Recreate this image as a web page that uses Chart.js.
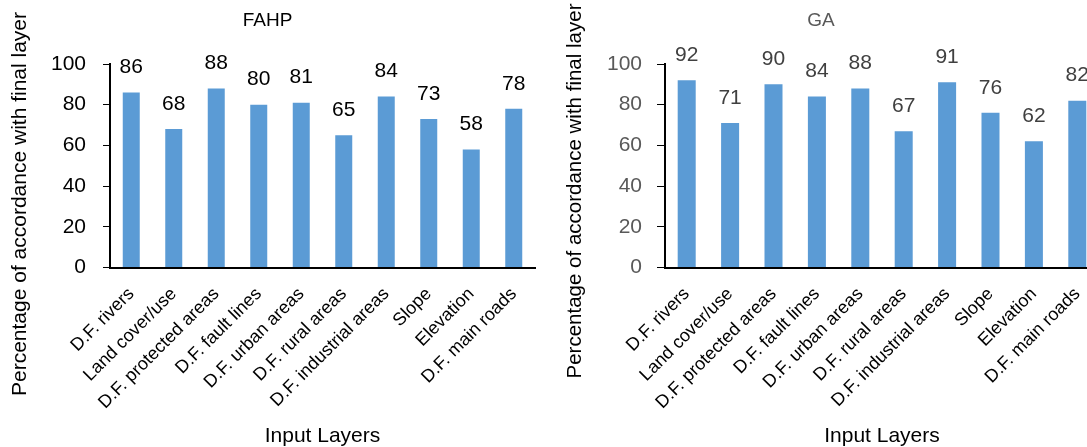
<!DOCTYPE html>
<html>
<head>
<meta charset="utf-8">
<script src="https://cdn.jsdelivr.net/npm/chart.js@4/dist/chart.umd.min.js"></script>
<style>
  html, body { margin: 0; padding: 0; background: #fff; }
  body { width: 1087px; height: 447px; overflow: hidden; position: relative; }
  .panel { position: absolute; top: 0; height: 447px; overflow: hidden; }
  #panelA { left: 0; width: 543px; }
  #panelB { left: 543px; width: 570px; }
</style>
</head>
<body>
<div class="panel" id="panelA"><canvas id="fahp" width="543" height="447"></canvas></div>
<div class="panel" id="panelB"><canvas id="ga" width="570" height="447"></canvas></div>
<script>
// Input layers shared by both panels
const layers = [
  'D.F. rivers', 'Land cover/use', 'D.F. protected areas', 'D.F. fault lines',
  'D.F. urban areas', 'D.F. rural areas', 'D.F. industrial areas', 'Slope',
  'Elevation', 'D.F. main roads'
];
// Percentage of accordance with the final layer
const fahpValues = [86, 68, 88, 80, 81, 65, 84, 73, 58, 78];
const gaValues   = [92, 71, 90, 84, 88, 67, 91, 76, 62, 82];
// Y-axis tick labels
const yTickValues = [0, 20, 40, 60, 80, 100];

const FONT = '"Liberation Sans", Arial, sans-serif';
const BAR_BLUE = '#5B9BD5';

// Value written above every bar
const valueLabelPlugin = {
  id: 'valueLabels',
  afterDatasetsDraw(chart, args, opts) {
    const ctx = chart.ctx;
    const values = chart.data.datasets[0].data;
    const meta = chart.getDatasetMeta(0);
    ctx.save();
    ctx.font = opts.size + 'px ' + FONT;
    ctx.fillStyle = opts.color;
    ctx.textAlign = 'center';
    ctx.textBaseline = 'middle';
    meta.data.forEach((bar, i) => {
      ctx.fillText(String(values[i]), bar.x, bar.y - opts.gap);
    });
    ctx.restore();
  }
};

// Rotated y-axis title, placed relative to the y scale
const yTitlePlugin = {
  id: 'yTitle',
  afterDraw(chart, args, opts) {
    const ctx = chart.ctx;
    const s = chart.scales.y;
    ctx.save();
    ctx.font = opts.size + 'px ' + FONT;
    ctx.fillStyle = opts.color;
    ctx.textAlign = 'center';
    ctx.textBaseline = 'middle';
    ctx.translate(s.left + opts.offsetX, opts.centerY);
    ctx.rotate(-Math.PI / 2);
    ctx.fillText(opts.text, 0, 0);
    ctx.restore();
  }
};

function makeChart(id, title, values, look) {
  const canvas = document.getElementById(id);
  return new Chart(canvas, {
    type: 'bar',
    data: {
      labels: layers,
      datasets: [{
        data: values,
        backgroundColor: BAR_BLUE,
        borderWidth: 0,
        barPercentage: look.barPct,
        categoryPercentage: 1
      }]
    },
    plugins: [valueLabelPlugin, yTitlePlugin],
    options: {
      responsive: false,
      animation: false,
      devicePixelRatio: 1,
      layout: { padding: { left: 0, right: look.padRight, top: 0, bottom: 0 } },
      plugins: {
        legend: { display: false },
        tooltip: { enabled: false },
        title: {
          display: true,
          text: title,
          color: look.titleColor,
          font: { family: FONT, size: 19, weight: 'normal', lineHeight: 1.2 },
          padding: { top: 9, bottom: 32.2 }
        },
        valueLabels: { size: 21, color: look.valueColor, gap: 25 },
        yTitle: {
          text: 'Percentage of accordance with final layer',
          size: look.yTitleSize,
          color: '#000',
          offsetX: look.yTitleX,
          centerY: look.yTitleY
        }
      },
      scales: {
        x: {
          type: 'category',
          offset: true,
          grid: { display: false },
          border: { display: true, color: '#000', width: 2 },
          ticks: {
            autoSkip: false,
            maxRotation: 45,
            minRotation: 45,
            padding: 8,
            color: '#000',
            font: { family: FONT, size: 18 }
          },
          title: {
            display: true,
            text: 'Input Layers',
            color: '#000',
            font: { family: FONT, size: 21, lineHeight: 1 },
            padding: { top: 0, bottom: 0 }
          },
          afterFit(scale) { scale.height = 447 - 267.5; }
        },
        y: {
          min: 0,
          max: 100,
          afterBuildTicks(scale) { scale.ticks = yTickValues.map(v => ({ value: v })); },
          grid: {
            display: true,
            drawOnChartArea: false,
            drawTicks: true,
            tickLength: look.tickLen,
            tickColor: '#000',
            tickWidth: 1
          },
          border: { display: true, color: '#000', width: 2 },
          ticks: {
            padding: look.tickPad,
            color: look.tickColor,
            font: { family: FONT, size: 21 }
          },
          afterFit(scale) { scale.width = look.yWidth; }
        }
      }
    }
  });
}

makeChart('fahp', 'FAHP', fahpValues, {
  barPct: 0.4, padRight: 8, yWidth: 110, tickLen: 7, tickPad: 17,
  titleColor: '#000', valueColor: '#000', tickColor: '#000',
  yTitleX: 20, yTitleY: 204, yTitleSize: 21
});

makeChart('ga', 'GA', gaValues, {
  barPct: 0.415, padRight: 14, yWidth: 122, tickLen: 8, tickPad: 15,
  titleColor: '#595959', valueColor: '#404040', tickColor: '#595959',
  yTitleX: 32, yTitleY: 191, yTitleSize: 20.5
});
</script>
</body>
</html>
